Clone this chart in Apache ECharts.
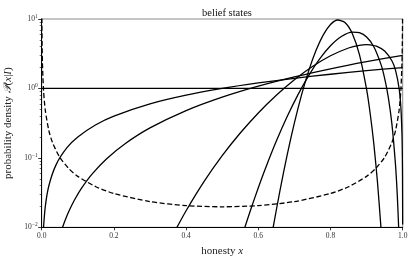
<!DOCTYPE html>
<html>
<head>
<meta charset="utf-8">
<script src="https://cdn.jsdelivr.net/npm/echarts@6/dist/echarts.min.js"></script>
<style>html,body{margin:0;padding:0;background:#fff}#c{width:415px;height:260px}</style>
</head>
<body>
<div id="c"></div>
<script>
// ---- data ----
var xTicks = [0.0, 0.2, 0.4, 0.6, 0.8, 1.0];
var yTicks = [0.01, 0.1, 1, 10];
var yMinorTicks = [0.02,0.03,0.04,0.05,0.06,0.07,0.08,0.09,0.2,0.3,0.4,0.5,0.6,0.7,0.8,0.9,2,3,4,5,6,7,8,9];

var xUniform = [0, 1];
var yUniform = [1, 1];

var xLinear = [0.0045,0.01,0.02,0.04,0.07,0.1,0.15,0.2,0.3,0.4,0.5,0.6,0.7,0.8,0.9,1.0];
var yLinear = [0.009,0.02,0.04,0.08,0.14,0.2,0.3,0.4,0.6,0.8,1.0,1.2,1.4,1.6,1.8,2.0];

var xQuad = [0.055,0.058,0.065,0.075,0.09,0.11,0.14,0.18,0.23,0.3,0.4,0.5,0.6,0.7,0.8,0.9,1.0];
var yQuad = [0.009075,0.010092,0.012675,0.016875,0.0243,0.0363,0.0588,0.0972,0.1587,0.27,0.48,0.75,1.08,1.47,1.92,2.43,3.0];

var xWide = [0.37,0.4,0.45,0.5,0.55,0.6,0.65,0.7,0.75,0.8,0.85,0.88,0.9,0.91,0.93,0.95,0.97,0.98,0.99,0.995,0.998,0.999,0.9995,0.9999];
var yWide = [0.0090,0.01732,0.0458,0.1074,0.2278,0.4438,0.797,1.332,2.065,2.953,3.822,4.177,4.262,4.236,4.007,3.467,2.508,1.834,1.005,0.526,0.2163,0.109,0.0548,0.01098];

var xMid = [0.56,0.58,0.60,0.62,0.65,0.68,0.71,0.74,0.77,0.80,0.83,0.86,0.88,0.90,0.92,0.94,0.95,0.96,0.97,0.98,0.985,0.989];
var yMid = [0.00903,0.01868,0.0371,0.07087,0.1743,0.3936,0.8156,1.546,2.660,4.108,5.585,6.465,6.345,5.489,3.982,2.203,1.399,0.7521,0.3118,0.08038,0.02904,0.00933];

var xNarrow = [0.64,0.66,0.68,0.70,0.72,0.74,0.76,0.78,0.80,0.82,0.84,0.86,0.88,0.90,0.91,0.92,0.93,0.94];
var yNarrow = [0.00926,0.03385,0.1102,0.3184,0.8129,1.8207,3.544,5.920,8.338,9.670,8.928,6.255,3.097,0.969,0.4324,0.1588,0.04567,0.00956];

var xPrior = [0.0001,0.0005,0.001,0.002,0.005,0.01,0.02,0.03,0.05,0.075,0.1,0.15,0.2,0.3,0.4,0.5,0.6,0.7,0.8,0.85,0.9,0.925,0.95,0.97,0.98,0.99,0.995,0.998,0.999,0.9995,0.9999];
var yPrior = [45.6,9.27,4.67,2.354,0.953,0.4822,0.2452,0.1659,0.1021,0.0702,0.0542,0.0384,0.0307,0.02344,0.02054,0.01973,0.02054,0.02344,0.0307,0.0384,0.0542,0.0702,0.1021,0.1659,0.2452,0.4822,0.953,2.354,4.67,9.27,45.6];

function pairs(xs, ys){ return xs.map(function(x,i){ return [x, ys[i]]; }); }

var FONT = '"Liberation Serif", "DejaVu Serif", serif';
var chart = echarts.init(document.getElementById('c'), null, {renderer:'canvas'});

function curve(xs, ys, dashed){
  return {
    type:'line', data: pairs(xs, ys), showSymbol:false, smooth:0.25,
    clip:true, animation:false, silent:true,
    lineStyle:{color:'#000', width:1.3, type: dashed ? [5,2.5] : 'solid'}
  };
}

chart.setOption({
  animation:false,
  backgroundColor:'#fff',
  title:{
    text:'belief states', left:222, top:3, textAlign:'center',
    textStyle:{fontFamily:FONT, fontSize:10.5, fontWeight:'normal', color:'#111'}
  },
  grid:{left:41.7, right:12.3, top:19, bottom:32.7, show:true, borderColor:'#8a8a8a', borderWidth:1,
        containLabel:false, outerBoundsMode:'none'},
  xAxis:{
    type:'value', min:0, max:1, interval:0.2,
    name:'honesty {i|x}', nameLocation:'middle', nameGap:15,
    nameTextStyle:{fontFamily:FONT, fontSize:11, color:'#222',
      rich:{i:{fontFamily:FONT, fontStyle:'italic', fontSize:11, color:'#222'}}},
    axisLine:{show:true, onZero:false, lineStyle:{color:'#000', width:1}},
    axisTick:{show:true, length:3, lineStyle:{color:'#000', width:0.8}},
    axisLabel:{fontFamily:FONT, fontSize:7.5, color:'#333', margin:5,
      customValues: xTicks,
      formatter:function(v){ return v.toFixed(1); }},
    splitLine:{show:false}
  },
  yAxis:[{
    type:'log', logBase:10, min:0.01, max:10, interval:1,
    name:'probability density {s|𝒫}({i|x}|{i|I})', nameLocation:'middle', nameGap:27,
    nameTextStyle:{fontFamily:FONT, fontSize:11, color:'#222',
      rich:{i:{fontFamily:FONT, fontStyle:'italic', fontSize:11, color:'#222'},
            s:{fontFamily:FONT, fontStyle:'italic', fontSize:11, color:'#222'}}},
    axisLine:{show:true, onZero:false, lineStyle:{color:'#000', width:1}},
    axisTick:{show:true, length:3.5, lineStyle:{color:'#000', width:0.8}},
    axisLabel:{margin:4, color:'#333',
      formatter:function(v){
        var e = Math.round(Math.log10(v));
        return '{b|10}{s|' + (e<0 ? '\u2212'+(-e) : e) + '}';
      },
      rich:{b:{fontFamily:FONT, fontSize:7.5, color:'#333'},
            s:{fontFamily:FONT, fontSize:5.5, color:'#333', padding:[0,0,5,0]}}},
    splitLine:{show:false}
  },{
    type:'log', logBase:10, min:0.01, max:10, interval:1, position:'left',
    axisLine:{show:false},
    axisTick:{show:true, length:2, customValues: yMinorTicks, lineStyle:{color:'#000', width:0.6}},
    axisLabel:{show:false},
    splitLine:{show:false}
  }],
  series:[
    curve(xPrior, yPrior, true),
    curve(xUniform, yUniform, false),
    curve(xLinear, yLinear, false),
    curve(xQuad, yQuad, false),
    curve(xWide, yWide, false),
    curve(xMid, yMid, false),
    curve(xNarrow, yNarrow, false)
  ]
});
</script>
</body>
</html>
